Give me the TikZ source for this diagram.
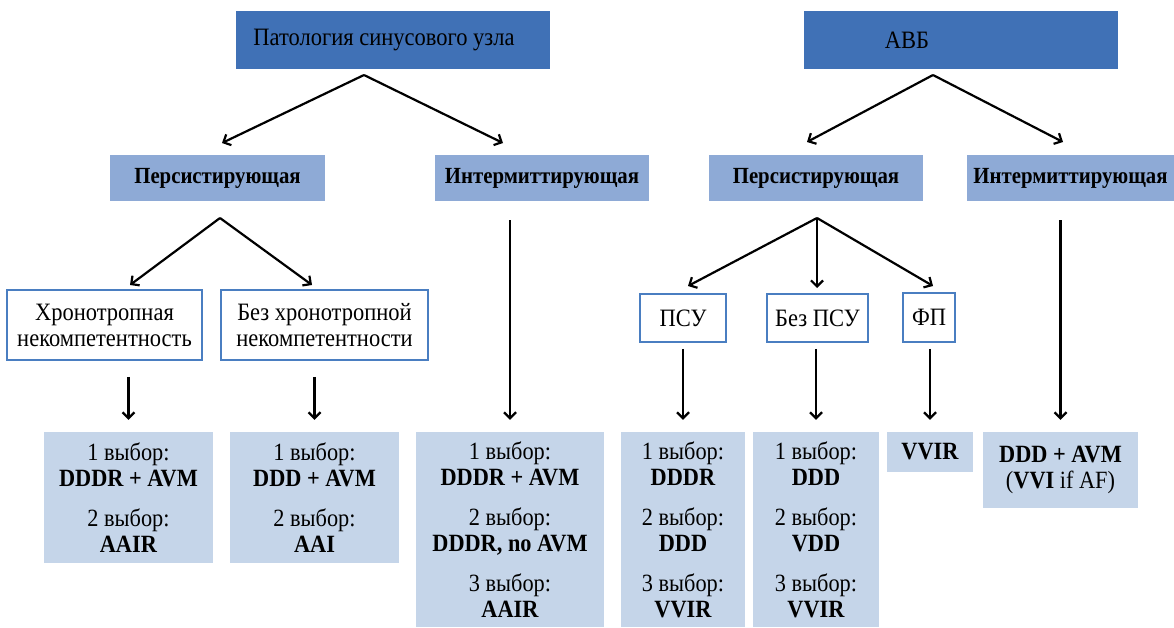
\documentclass[tikz,border=0pt]{standalone}
\usepackage{fontspec}
\setmainfont{Liberation Serif}[FakeStretch=0.9]
\usetikzlibrary{arrows.meta}
\definecolor{topblue}{RGB}{64,113,182}
\definecolor{midblue}{RGB}{142,170,214}
\definecolor{lowblue}{RGB}{197,213,233}
\definecolor{edgeblue}{RGB}{74,126,193}
\newcommand{\vyb}[1]{#1 выбор:}

\tikzset{
  topbox/.style={fill=topblue, inner sep=0pt, font=\fontsize{25}{26}\selectfont},
  midbox/.style={fill=midblue, inner sep=0pt, minimum height=46pt, font=\bfseries\fontsize{23.1}{24}\selectfont},
  subbox/.style={draw=edgeblue, line width=1.6pt, fill=white, inner sep=0pt, align=center, font=\fontsize{25}{26}\selectfont},
  choicebox/.style={fill=lowblue, inner sep=0pt, align=center, font=\fontsize{24.8}{26}\selectfont},
  arr/.style={-{Straight Barb[length=6pt,width=12pt]}, line width=2.2pt},
}

\begin{document}
\begin{tikzpicture}[x=1pt, y=-1pt]
\useasboundingbox (0,0) rectangle (1174,627);

% Define nodes

\node[topbox, minimum width=314pt, minimum height=58pt] (sinus) at (393,40) {Патология синусового узла\kern18pt};
\node[topbox, minimum width=314pt, minimum height=58pt] (avb)   at (961,40) {АВБ\kern108pt};

\node[midbox, minimum width=215pt] (pers1) at (217.5,178) {Персистирующая};
\node[midbox, minimum width=214pt] (int1)  at (542,178)   {Интермиттирующая};
\node[midbox, minimum width=214pt] (pers2) at (816,178)   {Персистирующая};
\node[midbox, minimum width=207pt] (int2)  at (1070.5,178) {Интермиттирующая};

\node[subbox, minimum width=195pt, minimum height=70pt] (xron)   at (104.5,325) {Хронотропная\\некомпетентность};
\node[subbox, minimum width=207pt, minimum height=70pt] (bezx)   at (324.5,325) {Без хронотропной\\некомпетентности};
\node[subbox, minimum width=86pt,  minimum height=48pt] (psu)    at (683,318)   {ПСУ};
\node[subbox, minimum width=101pt, minimum height=48pt] (bezpsu) at (817.5,318) {Без ПСУ};
\node[subbox, minimum width=52pt,  minimum height=49pt] (fp)     at (929,317.5) {ФП};

\node[choicebox, minimum width=169pt, minimum height=131pt] (chxron) at (128.5,497.5)
  {\vyb1\\\textbf{DDDR + AVM}\\[14pt]\vyb2\\\textbf{AAIR}};
\node[choicebox, minimum width=169pt, minimum height=131pt] (chbezx) at (314.5,497.5)
  {\vyb1\\\textbf{DDD + AVM}\\[14pt]\vyb2\\\textbf{AAI}};
\node[choicebox, minimum width=188pt, minimum height=195pt] (chint1) at (510,529.5)
  {\vyb1\\\textbf{DDDR + AVM}\\[14pt]\vyb2\\\textbf{DDDR, no AVM}\\[14pt]\vyb3\\\textbf{AAIR}};
\node[choicebox, minimum width=124pt, minimum height=195pt] (chpsu) at (683,529.5)
  {\vyb1\\\textbf{DDDR}\\[14pt]\vyb2\\\textbf{DDD}\\[14pt]\vyb3\\\textbf{VVIR}};
\node[choicebox, minimum width=126pt, minimum height=195pt] (chbezpsu) at (816,529.5)
  {\vyb1\\\textbf{DDD}\\[14pt]\vyb2\\\textbf{VDD}\\[14pt]\vyb3\\\textbf{VVIR}};
\node[choicebox, minimum width=86pt, minimum height=40pt] (chfp) at (930,452) {\textbf{VVIR}};
\node[choicebox, minimum width=155pt, minimum height=76pt] (chint2) at (1060.5,470)
  {\textbf{DDD + AVM}\\(\textbf{VVI} if AF)};

% Branch points and arrow ends

\coordinate (sinusfork) at (364,75);
\coordinate (avbfork)   at (933,75);
\coordinate (pers1fork) at (220,218);
\coordinate (pers2fork) at (817,218);

\coordinate (topay1) at (222,143);
\coordinate (topay2) at (503,143);
\coordinate (topby1) at (807,142);
\coordinate (topby2) at (1063,142);
\coordinate (xronin) at (130,285);
\coordinate (bezxin) at (312,285);
\coordinate (psuin)  at (688,286);
\coordinate (bezin)  at (817,288);
\coordinate (fpin)   at (933,286);

% Connect the nodes

\draw[arr] (sinusfork) -- (topay1);
\draw[arr] (sinusfork) -- (topay2);
\draw[arr] (avbfork) -- (topby1);
\draw[arr] (avbfork) -- (topby2);

\draw[arr] (pers1fork) -- (xronin);
\draw[arr] (pers1fork) -- (bezxin);
\draw[arr] (pers2fork) -- (psuin);
\draw[arr] (pers2fork) -- (bezin);
\draw[arr] (pers2fork) -- (fpin);

\draw[arr, shorten <=16pt, shorten >=12pt] (chxron.north |- xron.south) -- (chxron.north);
\draw[arr, shorten <=16pt, shorten >=12pt] (chbezx.north |- bezx.south) -- (chbezx.north);
\draw[arr, shorten <=19pt, shorten >=12pt] (chint1.north |- int1.south) -- (chint1.north);
\draw[arr, shorten <=6pt, shorten >=12pt] (psu.south) -- (chpsu.north);
\draw[arr, shorten <=6pt, shorten >=12pt] (chbezpsu.north |- bezpsu.south) -- (chbezpsu.north);
\draw[arr, shorten <=6pt, shorten >=12pt] (chfp.north |- fp.south) -- (chfp.north);
\draw[arr, shorten <=19pt, shorten >=12pt] (chint2.north |- int2.south) -- (chint2.north);

\end{tikzpicture}
\end{document}
